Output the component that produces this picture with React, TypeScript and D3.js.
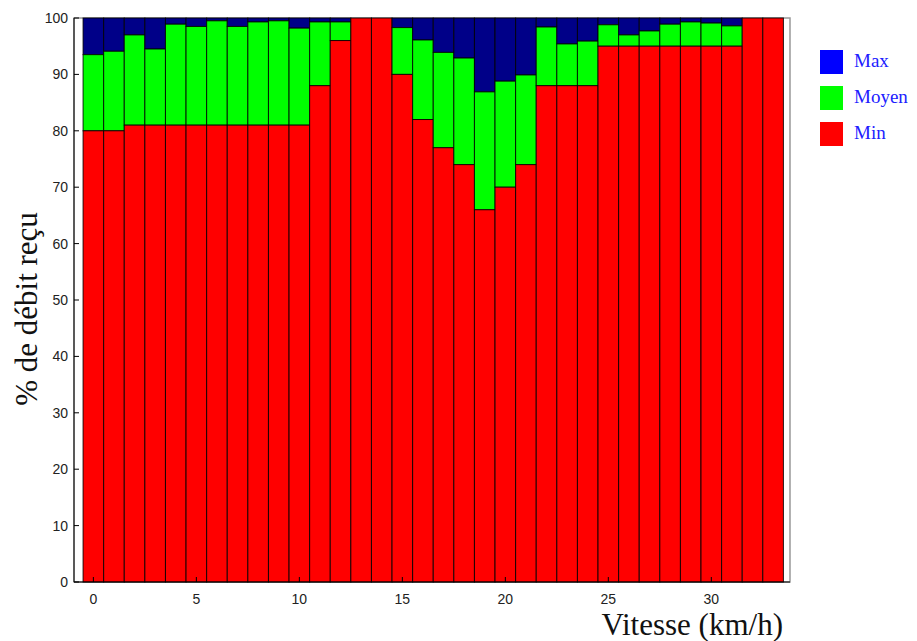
import React from "react";
import * as d3 from "d3";

const speeds = d3.range(0, 34);
const minVals = [80, 80, 81, 81, 81, 81, 81, 81, 81, 81, 81, 88, 96, 100, 100, 90, 82, 77, 74, 66, 70, 74, 88, 88, 88, 95, 95, 95, 95, 95, 95, 95, 100, 100];
const moyVals = [93.5, 94.1, 97.0, 94.5, 98.9, 98.5, 99.5, 98.5, 99.3, 99.5, 98.2, 99.3, 99.3, 100, 100, 98.3, 96.1, 93.9, 92.9, 86.9, 88.8, 89.9, 98.4, 95.4, 95.9, 98.8, 97.0, 97.7, 98.9, 99.3, 99.1, 98.6, 100, 100];
const maxVals = speeds.map(() => 100);
const yTicks = d3.range(0, 101, 10);
const xTicks = [0, 5, 10, 15, 20, 25, 30];
const legendItems = [
  { name: "Max", color: "#0000ff" },
  { name: "Moyen", color: "#00ff00" },
  { name: "Min", color: "#ff0000" },
];

const W = 917, H = 641;
const left = 74, right = 790, top = 18, bottom = 582;

export default function App() {
  const x = d3.scaleLinear().domain([-0.94, 33.82]).range([left, right]);
  const y = d3.scaleLinear().domain([0, 100]).range([bottom, top]);
  const bw = x(1) - x(0);
  const sans = "'Liberation Sans', Arial, sans-serif";
  const serif = "'Liberation Serif', 'Times New Roman', serif";
  return (
    <svg width={W} height={H} style={{ position: "absolute", left: 0, top: 0, background: "#fff" }}>
      {/* frame */}
      <rect x={left} y={top} width={right - left} height={bottom - top} fill="#fff" stroke="#999" strokeWidth={1.5} />
      {speeds.map((s, i) => {
        const x0 = x(s) - bw / 2;
        return (
          <g key={s} stroke="#000" strokeOpacity={0.85} strokeWidth={1}>
            <rect x={x0} y={y(maxVals[i])} width={bw} height={y(moyVals[i]) - y(maxVals[i])} fill="#000088" />
            <rect x={x0} y={y(moyVals[i])} width={bw} height={y(minVals[i]) - y(moyVals[i])} fill="#00ff00" />
            <rect x={x0} y={y(minVals[i])} width={bw} height={y(0) - y(minVals[i])} fill="#ff0000" />
          </g>
        );
      })}
      {/* axes */}
      <line x1={left} x2={left} y1={top} y2={bottom} stroke="#000" strokeWidth={1} />
      <line x1={left} x2={right} y1={bottom} y2={bottom} stroke="#000" strokeWidth={1} />
      {yTicks.map(t => (
        <g key={t}>
          <line x1={left} x2={left + 5} y1={y(t)} y2={y(t)} stroke="#000" />
          <text x={left - 6} y={y(t)} dy="0.36em" textAnchor="end" fontFamily={sans} fontSize={14} fill="#222">{t}</text>
        </g>
      ))}
      {xTicks.map(t => (
        <g key={t}>
          <line x1={x(t)} x2={x(t)} y1={bottom} y2={bottom - 5} stroke="#000" />
          <text x={x(t)} y={604} textAnchor="middle" fontFamily={sans} fontSize={14} fill="#222">{t}</text>
        </g>
      ))}
      <text transform={`translate(37,309) rotate(-90)`} textAnchor="middle" fontFamily={serif} fontSize={31} fill="#111">% de débit reçu</text>
      <text x={783} y={635} textAnchor="end" fontFamily={serif} fontSize={31} fill="#111">Vitesse (km/h)</text>
      {legendItems.map((it, i) => (
        <g key={it.name}>
          <rect x={820} y={50 + i * 36} width={23} height={24} fill={it.color} />
          <text x={854} y={67 + i * 36} fontFamily={serif} fontSize={19} fill="#2020ff">{it.name}</text>
        </g>
      ))}
    </svg>
  );
}
